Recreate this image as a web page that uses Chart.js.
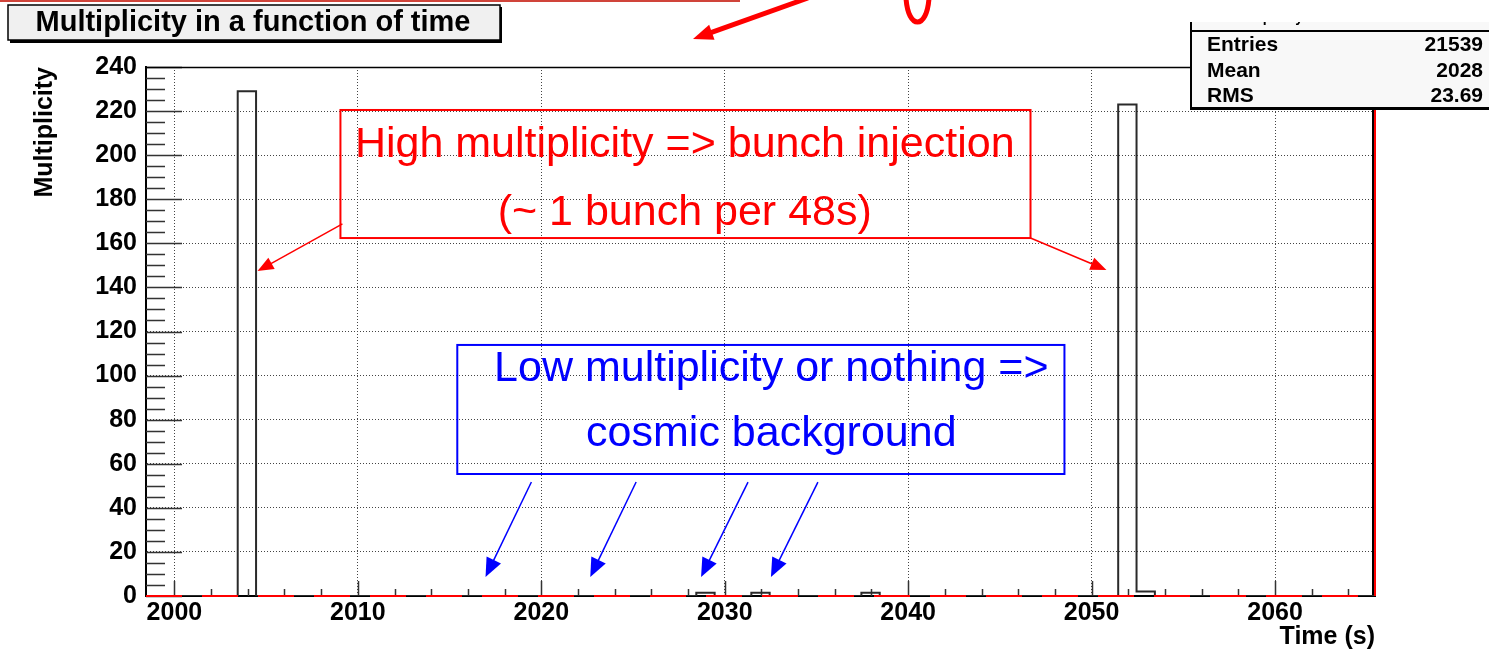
<!DOCTYPE html>
<html>
<head>
<meta charset="utf-8">
<script src="https://cdn.jsdelivr.net/npm/chart.js@4/dist/chart.umd.min.js"></script>
<style>
  html, body { margin: 0; padding: 0; background: #fff; }
  #wrap { width: 1489px; height: 653px; }
</style>
</head>
<body>
<div id="wrap"><canvas id="multChart" width="1489" height="653"></canvas></div>
<script>
// histogram: 1 s bins starting at binLow
const binLow = 1998.45;
const binWidth = 1;
const counts = [
  0, 0, 0, 0, 0, 229, 0, 0, 0, 0,
  0, 0, 0, 0, 0, 0, 0, 0, 0, 0,
  0, 0, 0, 0, 0, 0, 0, 0, 0, 0,
  1.5, 0, 0, 1.5, 0, 0, 0, 0, 0, 1.5,
  0, 0, 0, 0, 0, 0, 0, 0, 0, 0,
  0, 0, 0, 223, 2, 0, 0, 0, 0, 0,
  0, 0, 0, 0, 0, 0, 0
];
const xTicks = [2000, 2010, 2020, 2030, 2040, 2050, 2060];
const yTicks = [0, 20, 40, 60, 80, 100, 120, 140, 160, 180, 200, 220, 240];

const statLabels = ["Entries", "Mean", "RMS"];
const statValues = ["21539", "2028", "23.69"];

const FONT = "'Liberation Sans', Arial, Helvetica, sans-serif";

// annotations in data coordinates
const highNote = {
  lines: ["High multiplicity => bunch injection", "(~ 1 bunch per 48s)"],
  color: "#ff0000",
  box: [2009.05, 220.5, 2046.67, 162.4],
  textX: 2027.82, textY: [204.6, 173.8],
  arrows: [[2009.16, 168.8, 2004.53, 147.4], [2046.67, 162.4, 2050.81, 147.9]],
  head: [16, 13]
};
const lowNote = {
  lines: ["Low multiplicity or nothing =>", "cosmic background"],
  color: "#0000ff",
  box: [2015.42, 113.9, 2048.52, 55.35],
  textX: 2032.54, textY: [103.0, 73.5],
  arrows: [[2019.46, 51.7, 2016.96, 8.6], [2025.17, 51.7, 2022.67, 8.6],
           [2031.27, 51.7, 2028.71, 8.6], [2035.08, 51.7, 2032.52, 8.6]],
  head: [19, 16]
};

// build stepped outline from bin edges
const histPoints = counts.map((c, i) => ({ x: binLow + i * binWidth, y: c }));
histPoints.push({ x: binLow + counts.length * binWidth, y: counts[counts.length - 1] });
const xMax = binLow + counts.length * binWidth;

function arrow(ctx, x1, y1, x2, y2, color, width, headLen, headW) {
  const a = Math.atan2(y2 - y1, x2 - x1);
  ctx.save();
  ctx.strokeStyle = color;
  ctx.fillStyle = color;
  ctx.lineWidth = width;
  ctx.beginPath();
  ctx.moveTo(x1, y1);
  ctx.lineTo(x2 - Math.cos(a) * headLen * 0.8, y2 - Math.sin(a) * headLen * 0.8);
  ctx.stroke();
  ctx.translate(x2, y2);
  ctx.rotate(a);
  ctx.beginPath();
  ctx.moveTo(0, 0);
  ctx.lineTo(-headLen, -headW / 2);
  ctx.lineTo(-headLen, headW / 2);
  ctx.closePath();
  ctx.fill();
  ctx.restore();
}

const rootStyle = {
  id: "rootStyle",
  beforeDatasetsDraw(chart) {
    const { ctx, chartArea: a, scales: { x, y } } = chart;
    ctx.save();
    ctx.strokeStyle = "#333";
    ctx.lineWidth = 1.5;
    ctx.beginPath();
    for (let v = 0; v <= 240; v += 5) {
      const py = Math.round(y.getPixelForValue(v)) + 0.5;
      const len = v % 20 === 0 ? 36 : 19;
      ctx.moveTo(a.left, py);
      ctx.lineTo(a.left + len, py);
    }
    for (let v = 2000; v <= 2064; v += 2) {
      const px = Math.round(x.getPixelForValue(v)) + 0.5;
      const len = v % 10 === 0 ? 15 : 7;
      ctx.moveTo(px, a.bottom);
      ctx.lineTo(px, a.bottom - len);
    }
    ctx.stroke();
    // top / right frame
    ctx.strokeStyle = "#000";
    ctx.lineWidth = 1.5;
    ctx.beginPath();
    ctx.moveTo(a.left, a.top + 0.5);
    ctx.lineTo(a.right, a.top + 0.5);
    ctx.stroke();
    ctx.lineWidth = 2;
    ctx.beginPath();
    ctx.moveTo(a.right - 2, a.top);
    ctx.lineTo(a.right - 2, a.bottom);
    ctx.stroke();
    ctx.restore();
  },
  afterDatasetsDraw(chart) {
    const { ctx, scales: { x, y } } = chart;
    [highNote, lowNote].forEach(n => {
      ctx.save();
      ctx.strokeStyle = n.color;
      ctx.lineWidth = 2;
      const [x0, y0, x1, y1] = n.box;
      const l = x.getPixelForValue(x0), t = y.getPixelForValue(y0);
      const r = x.getPixelForValue(x1), b = y.getPixelForValue(y1);
      ctx.strokeRect(l, t, r - l, b - t);
      ctx.fillStyle = n.color;
      ctx.font = "43px " + FONT;
      ctx.textAlign = "center";
      ctx.textBaseline = "middle";
      n.lines.forEach((s, i) => ctx.fillText(s, x.getPixelForValue(n.textX), y.getPixelForValue(n.textY[i])));
      ctx.restore();
      n.arrows.forEach(p => arrow(ctx, x.getPixelForValue(p[0]), y.getPixelForValue(p[1]),
        x.getPixelForValue(p[2]), y.getPixelForValue(p[3]), n.color, 1.5, n.head[0], n.head[1]));
    });
  },
  afterDraw(chart) {
    const { ctx } = chart;
    ctx.save();
    // title pave
    ctx.fillStyle = "#000";
    ctx.fillRect(10, 7, 492, 36);
    ctx.fillStyle = "#f0f0f0";
    ctx.fillRect(8, 5, 492, 35);
    ctx.strokeStyle = "#000";
    ctx.lineWidth = 1.5;
    ctx.strokeRect(8, 5, 492, 35);
    ctx.fillStyle = "#000";
    ctx.font = "bold 29px " + FONT;
    ctx.textAlign = "center";
    ctx.textBaseline = "middle";
    ctx.fillText("Multiplicity in a function of time", 253, 23);

    // stats box (top cut off)
    ctx.fillStyle = "#f8f8f8";
    ctx.fillRect(1191, 22, 300, 86);
    ctx.fillStyle = "#000";
    ctx.fillRect(1190, 22, 2, 88);
    ctx.fillRect(1190, 107, 300, 3);
    ctx.fillRect(1191, 30, 300, 2);
    ctx.save();
    ctx.beginPath();
    ctx.rect(1191, 22, 300, 8);
    ctx.clip();
    ctx.font = "bold 14px " + FONT;
    ctx.textAlign = "left";
    ctx.textBaseline = "alphabetic";
    ctx.fillText("Multiplicity", 1230, 22);
    ctx.restore();
    ctx.font = "bold 21px " + FONT;
    ctx.textBaseline = "middle";
    const rowY = [45, 71, 96];
    statLabels.forEach((s, i) => {
      ctx.textAlign = "left";
      ctx.fillText(s, 1207, rowY[i]);
      ctx.textAlign = "right";
      ctx.fillText(statValues[i], 1483, rowY[i]);
    });

    // slide decorations above the plot
    ctx.strokeStyle = "#d0443a";
    ctx.lineWidth = 2;
    ctx.beginPath();
    ctx.moveTo(0, 1);
    ctx.lineTo(740, 1);
    ctx.stroke();
    arrow(ctx, 808, -2, 693, 39, "#ff0000", 5, 20, 16);
    ctx.strokeStyle = "#ff0000";
    ctx.lineWidth = 5;
    ctx.beginPath();
    ctx.moveTo(906, -2);
    ctx.bezierCurveTo(908, 30, 927, 30, 929, -2);
    ctx.stroke();
    ctx.restore();
  }
};

const tickFont = { family: FONT, size: 25, weight: "bold" };

new Chart(document.getElementById("multChart"), {
  type: "line",
  data: {
    datasets: [
      {
        label: "Multiplicity",
        data: histPoints,
        stepped: true,
        borderColor: "#2a2a2a",
        borderWidth: 2,
        pointRadius: 0,
        fill: false,
        order: 1
      },
      {
        label: "background",
        data: [{ x: binLow, y: 0 }, { x: xMax, y: 0 }, { x: xMax, y: 240 }],
        borderColor: "#ff0000",
        borderWidth: 2,
        pointRadius: 0,
        fill: false,
        clip: 4,
        order: 0,
        segment: {
          borderDash: c => (c.p0.parsed.y === c.p1.parsed.y ? [36, 20] : [])
        }
      }
    ]
  },
  options: {
    responsive: false,
    animation: false,
    layout: { padding: { left: 0, top: 67, right: 114, bottom: 0 } },
    plugins: { legend: { display: false }, tooltip: { enabled: false } },
    scales: {
      x: {
        type: "linear",
        min: binLow,
        max: xMax,
        afterBuildTicks: s => { s.ticks = xTicks.map(v => ({ value: v })); },
        afterFit: s => { s.height = 57; },
        grid: { color: "#444", lineWidth: 1, drawTicks: false },
        border: { color: "#000", width: 2, dash: [1, 2] },
        ticks: { font: tickFont, color: "#000", padding: 2, maxRotation: 0, autoSkip: false,
                 callback: v => String(v) },
        title: { display: true, text: "Time (s)", align: "end", color: "#000",
                 font: tickFont, padding: { top: 0, bottom: 1 } }
      },
      y: {
        min: 0,
        max: 240,
        afterBuildTicks: s => { s.ticks = yTicks.map(v => ({ value: v })); },
        afterFit: s => { s.width = 146; },
        grid: { color: "#444", lineWidth: 1, drawTicks: false },
        border: { color: "#000", width: 2, dash: [1, 2] },
        ticks: { font: tickFont, color: "#000", padding: 9, autoSkip: false },
        title: { display: true, text: "Multiplicity", align: "end", color: "#000",
                 font: tickFont, padding: { top: 30, bottom: 0 } }
      }
    }
  },
  plugins: [rootStyle]
});
</script>
</body>
</html>
